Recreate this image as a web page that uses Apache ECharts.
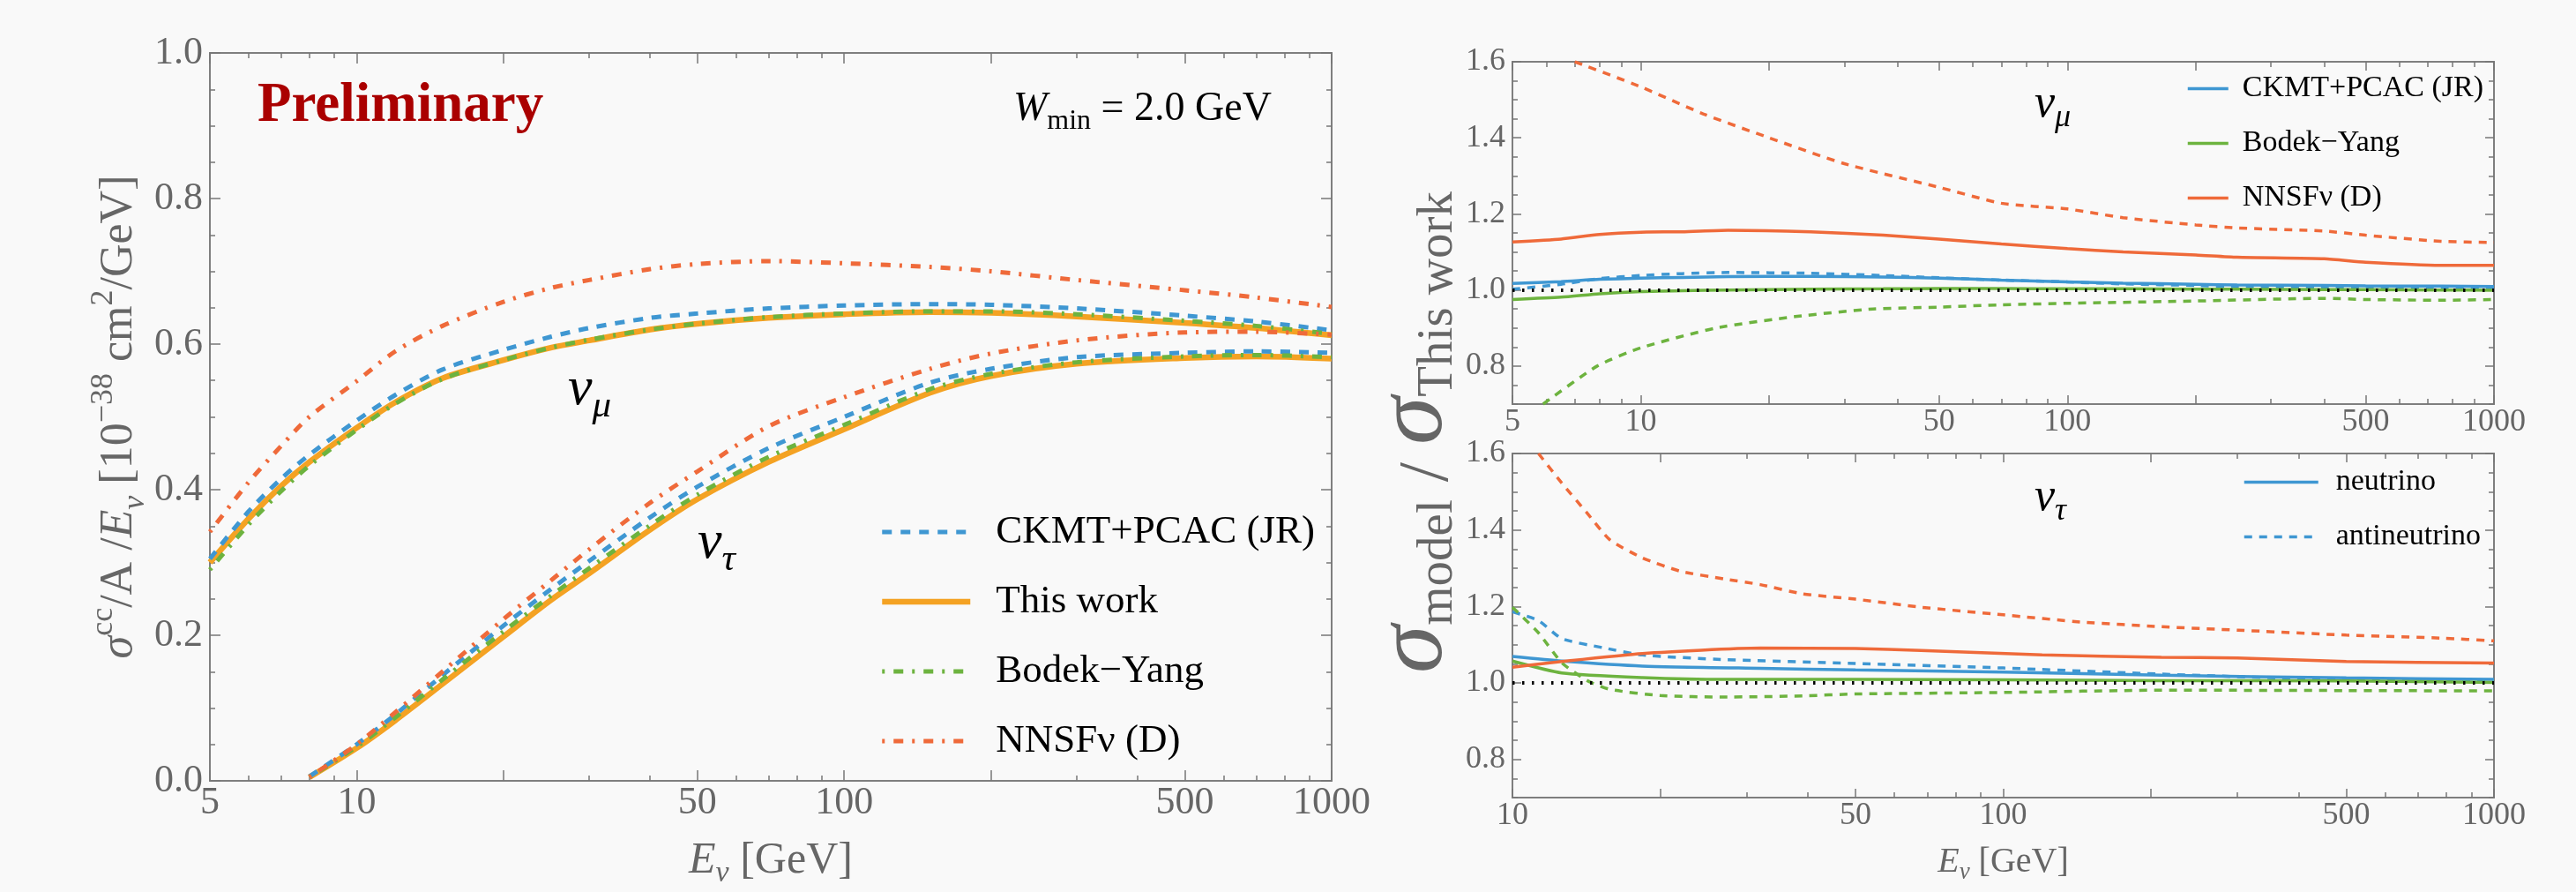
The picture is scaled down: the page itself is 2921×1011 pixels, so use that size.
<!DOCTYPE html>
<html>
<head>
<meta charset="utf-8">
<title>CC cross sections and ratios</title>
<script src="https://cdn.jsdelivr.net/npm/echarts@6/dist/echarts.min.js"></script>
<style>
  html, body { margin: 0; padding: 0; background: #f9f9f9; }
  #main { width: 2921px; height: 1011px; }
</style>
</head>
<body>
<div id="main"></div>
<script>
// ---- data ----
// left panel: sigma^cc / A / E  [1e-38 cm2/GeV]
var E_MU = [5, 6, 7, 8, 10, 12, 15, 20, 25, 30, 40, 50, 70, 100, 150, 200, 300, 500, 700, 1000];
var muThisWork = [0.300, 0.360, 0.405, 0.438, 0.485, 0.520, 0.553, 0.578, 0.595, 0.605, 0.620, 0.628, 0.636, 0.641, 0.644, 0.643, 0.638, 0.629, 0.622, 0.612];
var muCKMT     = [0.305, 0.370, 0.415, 0.448, 0.495, 0.530, 0.565, 0.592, 0.610, 0.622, 0.636, 0.642, 0.649, 0.653, 0.655, 0.654, 0.649, 0.639, 0.631, 0.619];
var muBY       = [0.290, 0.352, 0.398, 0.433, 0.482, 0.518, 0.552, 0.578, 0.595, 0.606, 0.620, 0.628, 0.637, 0.642, 0.645, 0.645, 0.641, 0.632, 0.625, 0.614];
var muNNSF     = [0.342, 0.410, 0.460, 0.500, 0.549, 0.590, 0.625, 0.658, 0.677, 0.688, 0.703, 0.710, 0.714, 0.711, 0.706, 0.700, 0.688, 0.674, 0.664, 0.651];

var E_TAU = [8, 10, 12, 15, 20, 25, 30, 40, 50, 70, 100, 150, 200, 300, 500, 700, 1000];
var tauThisWork = [0.005, 0.045, 0.083, 0.133, 0.198, 0.248, 0.285, 0.345, 0.387, 0.438, 0.483, 0.533, 0.556, 0.573, 0.581, 0.583, 0.580];
var tauCKMT     = [0.006, 0.050, 0.091, 0.145, 0.213, 0.263, 0.302, 0.362, 0.404, 0.457, 0.500, 0.547, 0.566, 0.582, 0.588, 0.590, 0.588];
var tauBY       = [0.005, 0.047, 0.087, 0.139, 0.205, 0.254, 0.292, 0.351, 0.393, 0.445, 0.489, 0.538, 0.559, 0.575, 0.583, 0.585, 0.582];
var tauNNSF     = [0.005, 0.050, 0.094, 0.150, 0.222, 0.275, 0.318, 0.382, 0.425, 0.487, 0.527, 0.566, 0.587, 0.605, 0.616, 0.617, 0.613];

// upper right: ratio to this work, nu_mu
var E_RMU = [5, 6.5, 8, 10, 12.5, 16, 25, 37, 50, 70, 100, 135, 200, 250, 400, 500, 750, 1000];
var rmuCKMT    = [1.017, 1.022, 1.028, 1.031, 1.033, 1.035, 1.036, 1.034, 1.031, 1.026, 1.021, 1.018, 1.015, 1.013, 1.012, 1.011, 1.010, 1.009];
var rmuCKMTbar = [1.002, 1.015, 1.030, 1.038, 1.043, 1.046, 1.044, 1.038, 1.032, 1.026, 1.021, 1.016, 1.012, 1.009, 1.006, 1.005, 1.003, 1.002];
var rmuBY      = [0.975, 0.981, 0.990, 0.996, 0.998, 1.000, 1.002, 1.003, 1.004, 1.004, 1.003, 1.003, 1.002, 1.002, 1.001, 1.001, 1.000, 0.999];
var rmuNNSF    = [1.126, 1.134, 1.146, 1.152, 1.153, 1.157, 1.153, 1.144, 1.134, 1.121, 1.109, 1.100, 1.092, 1.086, 1.082, 1.073, 1.065, 1.065];
var E_RMU_BYBAR = [5.9, 7.9, 10, 15, 23, 35, 50, 70, 100, 200, 400, 500, 750, 1000];
var rmuBYbar    = [0.700, 0.800, 0.848, 0.900, 0.930, 0.950, 0.955, 0.961, 0.965, 0.971, 0.978, 0.975, 0.973, 0.975];
var E_RMU_NNBAR = [7, 10, 14, 20, 30, 50, 70, 100, 135, 200, 250, 400, 500, 750, 1000];
var rmuNNSFbar  = [1.600, 1.534, 1.463, 1.400, 1.332, 1.270, 1.228, 1.213, 1.190, 1.171, 1.163, 1.155, 1.144, 1.128, 1.125];

// lower right: ratio to this work, nu_tau
var E_RT_CK = [10, 12.6, 18.4, 32, 50, 100, 210, 500, 1000];
var rtCKMT  = [1.069, 1.057, 1.044, 1.038, 1.034, 1.028, 1.020, 1.013, 1.009];
var E_RT_CKBAR = [10, 11.3, 12.6, 15.3, 18.4, 27, 50, 100, 210, 500, 1000];
var rtCKMTbar  = [1.186, 1.163, 1.116, 1.092, 1.073, 1.061, 1.051, 1.039, 1.023, 1.008, 1.005];
var E_RT_BY = [10, 12.6, 18.4, 27, 50, 100, 210, 500, 1000];
var rtBY    = [1.057, 1.026, 1.014, 1.009, 1.009, 1.008, 1.006, 1.005, 1.001];
var E_RT_BYBAR = [10, 11.3, 12.6, 14.2, 15.8, 20, 27, 39, 50, 100, 210, 500, 1000];
var rtBYbar    = [1.198, 1.131, 1.053, 1.006, 0.983, 0.967, 0.963, 0.966, 0.971, 0.975, 0.981, 0.980, 0.979];
var E_RT_NN = [10, 12.6, 18.4, 32, 50, 68, 120, 210, 300, 500, 1000];
var rtNNSF  = [1.041, 1.056, 1.077, 1.091, 1.090, 1.085, 1.073, 1.067, 1.065, 1.056, 1.052];
var E_RT_NNBAR = [11.3, 12.6, 14.2, 15.8, 18.4, 22, 27, 32, 39, 50, 68, 100, 145, 210, 300, 500, 785, 1000];
var rtNNSFbar  = [1.600, 1.523, 1.444, 1.374, 1.327, 1.292, 1.272, 1.257, 1.233, 1.219, 1.198, 1.178, 1.159, 1.147, 1.138, 1.125, 1.117, 1.110];

// ticks
var X_MAJOR = [5, 10, 20, 50, 100, 200, 500, 1000];
var X_MINOR = [6, 7, 8, 9, 30, 40, 60, 70, 80, 90, 300, 400, 600, 700, 800, 900];
var X_LABELS = [5, 10, 50, 100, 500, 1000];
var Y_LEFT_LABELS = [0, 0.2, 0.4, 0.6, 0.8, 1.0];
var Y_LEFT_MINOR = [0.05, 0.1, 0.15, 0.25, 0.3, 0.35, 0.45, 0.5, 0.55, 0.65, 0.7, 0.75, 0.85, 0.9, 0.95];
var Y_RATIO_LABELS = [0.8, 1.0, 1.2, 1.4, 1.6];
var Y_RATIO_MINOR = [0.7, 0.75, 0.85, 0.9, 0.95, 1.05, 1.1, 1.15, 1.25, 1.3, 1.35, 1.45, 1.5, 1.55];

var N_CK = 'CKMT+PCAC (JR)', N_TW = 'This work', N_BY = 'Bodek\u2212Yang', N_NN = 'NNSF\u03bd (D)';

// ---- styles ----
var FONT = '"Liberation Serif", "Times New Roman", serif';
var GRAY = '#666666';
var C_BLUE = '#3f97d2', C_ORANGE = '#f4a223', C_GREEN = '#6db33f', C_RED = '#ef6a3a';
var TICK = { color: '#777777', width: 1.5 };

function lg(list) { return list.map(function (e) { return Math.log10(e); }); }
function inRange(list, a, b) { return list.filter(function (e) { return e >= a && e <= b; }); }

function xAxes(grid, minE, maxE, fontSize, majLen, minLen, nameGap, nameSize) {
  var lo = Math.log10(minE), hi = Math.log10(maxE);
  var major = lg(inRange(X_MAJOR, minE, maxE));
  var minor = lg(inRange(X_MINOR, minE, maxE));
  var base = { type: 'value', gridIndex: grid, min: lo, max: hi,
    axisLine: { show: false, onZero: false }, splitLine: { show: false } };
  var nameRich = {
    e: { fontFamily: FONT, fontStyle: 'italic', fontSize: nameSize, lineHeight: nameSize * 1.24, color: GRAY, verticalAlign: 'middle' },
    sub: { fontFamily: FONT, fontStyle: 'italic', fontSize: Math.round(nameSize * 0.68), lineHeight: Math.round(nameSize * 0.68), color: GRAY, verticalAlign: 'bottom' },
    n: { fontFamily: FONT, fontSize: nameSize, lineHeight: nameSize * 1.24, color: GRAY, verticalAlign: 'middle' }
  };
  return [
    Object.assign({}, base, { position: 'bottom',
      axisTick: { inside: true, length: majLen, customValues: major, lineStyle: TICK },
      axisLabel: { customValues: lg(inRange(X_LABELS, minE, maxE)), margin: 3,
        formatter: function (v) { return String(Math.round(Math.pow(10, v))); },
        fontFamily: FONT, fontSize: fontSize, color: GRAY },
      name: nameSize ? '{e|E}{sub|\u03bd}{n| [GeV]}' : '', nameLocation: 'middle', nameGap: nameGap,
      nameTextStyle: { rich: nameRich } }),
    Object.assign({}, base, { position: 'bottom',
      axisTick: { inside: true, length: minLen, customValues: minor, lineStyle: TICK },
      axisLabel: { show: false } }),
    Object.assign({}, base, { position: 'top',
      axisTick: { inside: true, length: majLen, customValues: major, lineStyle: TICK },
      axisLabel: { show: false } }),
    Object.assign({}, base, { position: 'top',
      axisTick: { inside: true, length: minLen, customValues: minor, lineStyle: TICK },
      axisLabel: { show: false } })
  ];
}

function yAxes(grid, lo, hi, labels, minor, fontSize, majLen, minLen, extra) {
  var base = { type: 'value', gridIndex: grid, min: lo, max: hi,
    axisLine: { show: false, onZero: false }, splitLine: { show: false } };
  return [
    Object.assign({}, base, { position: 'left',
      axisTick: { inside: true, length: majLen, customValues: labels, lineStyle: TICK },
      axisLabel: { customValues: labels, margin: 8,
        formatter: function (v) { return v.toFixed(1); },
        fontFamily: FONT, fontSize: fontSize, color: GRAY } }, extra || {}),
    Object.assign({}, base, { position: 'left',
      axisTick: { inside: true, length: minLen, customValues: minor, lineStyle: TICK },
      axisLabel: { show: false } }),
    Object.assign({}, base, { position: 'right',
      axisTick: { inside: true, length: majLen, customValues: labels, lineStyle: TICK },
      axisLabel: { show: false } }),
    Object.assign({}, base, { position: 'right',
      axisTick: { inside: true, length: minLen, customValues: minor, lineStyle: TICK },
      axisLabel: { show: false } })
  ];
}

function pts(E, v) { return E.map(function (e, i) { return [Math.log10(e), v[i]]; }); }

function line(name, grid, E, v, color, width, type, extra) {
  return Object.assign({
    name: name, type: 'line', xAxisIndex: grid * 4, yAxisIndex: grid * 4,
    data: pts(E, v), symbol: 'none', showSymbol: false, smooth: 0.3,
    clip: true, z: 3, silent: true, emphasis: { disabled: true },
    itemStyle: { color: color },
    lineStyle: { color: color, width: width, type: type }
  }, extra || {});
}

var DASH_L = [11, 10], DASHDOT_L = [3, 10, 11, 10], DASH_R = [9, 8];
var W_L = 5, W_TW = 6.5, W_R = 3.5;

var unityLine = {
  silent: true, symbol: ['none', 'none'], label: { show: false },
  lineStyle: { color: '#000', width: 4, type: [2.5, 8.5] },
  data: [{ yAxis: 1 }]
};

var series = [
  // left panel, nu_mu (first: their styles feed the legend)
  line(N_CK, 0, E_MU, muCKMT, C_BLUE, W_L, DASH_L),
  line(N_TW, 0, E_MU, muThisWork, C_ORANGE, W_TW, 'solid', { z: 2 }),
  line(N_BY, 0, E_MU, muBY, C_GREEN, W_L, DASHDOT_L),
  line(N_NN, 0, E_MU, muNNSF, C_RED, W_L, DASHDOT_L),
  // left panel, nu_tau
  line(N_CK, 0, E_TAU, tauCKMT, C_BLUE, W_L, DASH_L),
  line(N_TW, 0, E_TAU, tauThisWork, C_ORANGE, W_TW, 'solid', { z: 2 }),
  line(N_BY, 0, E_TAU, tauBY, C_GREEN, W_L, DASHDOT_L),
  line(N_NN, 0, E_TAU, tauNNSF, C_RED, W_L, DASHDOT_L),
  // upper right, nu_mu ratios
  line(N_CK, 1, E_RMU, rmuCKMT, C_BLUE, W_R, 'solid', { smooth: 0.2, markLine: unityLine }),
  line(N_CK, 1, E_RMU, rmuCKMTbar, C_BLUE, W_R, DASH_R, { smooth: 0.2 }),
  line(N_BY, 1, E_RMU, rmuBY, C_GREEN, W_R, 'solid', { smooth: 0.2 }),
  line(N_BY, 1, E_RMU_BYBAR, rmuBYbar, C_GREEN, W_R, DASH_R, { smooth: 0.2 }),
  line(N_NN, 1, E_RMU, rmuNNSF, C_RED, W_R, 'solid', { smooth: 0.2 }),
  line(N_NN, 1, E_RMU_NNBAR, rmuNNSFbar, C_RED, W_R, DASH_R, { smooth: 0.2 }),
  // lower right, nu_tau ratios
  line(N_CK, 2, E_RT_CK, rtCKMT, C_BLUE, W_R, 'solid', { smooth: 0.2, markLine: unityLine }),
  line(N_CK, 2, E_RT_CKBAR, rtCKMTbar, C_BLUE, W_R, DASH_R, { smooth: 0.2 }),
  line(N_BY, 2, E_RT_BY, rtBY, C_GREEN, W_R, 'solid', { smooth: 0.2 }),
  line(N_BY, 2, E_RT_BYBAR, rtBYbar, C_GREEN, W_R, DASH_R, { smooth: 0.2 }),
  line(N_NN, 2, E_RT_NN, rtNNSF, C_RED, W_R, 'solid', { smooth: 0.2 }),
  line(N_NN, 2, E_RT_NNBAR, rtNNSFbar, C_RED, W_R, DASH_R, { smooth: 0.2 }),
  // legend-only entries of the lower right panel
  line('neutrino', 2, [], [], C_BLUE, W_R, 'solid'),
  line('antineutrino', 2, [], [], C_BLUE, W_R, DASH_R)
];

var leftYName = {
  s: { fontFamily: FONT, fontStyle: 'italic', fontSize: 52, lineHeight: 72, color: GRAY, verticalAlign: 'middle' },
  e: { fontFamily: FONT, fontStyle: 'italic', fontSize: 52, lineHeight: 72, color: GRAY, verticalAlign: 'middle' },
  n: { fontFamily: FONT, fontSize: 52, lineHeight: 72, color: GRAY, verticalAlign: 'middle' },
  sup: { fontFamily: FONT, fontSize: 36, lineHeight: 36, color: GRAY, verticalAlign: 'top' },
  sub: { fontFamily: FONT, fontStyle: 'italic', fontSize: 36, lineHeight: 36, color: GRAY, verticalAlign: 'bottom' }
};

var xAxis = [].concat(
  xAxes(0, 5, 1000, 44, 12, 6, 60, 50),
  xAxes(1, 5, 1000, 36, 10, 6, 0, 0),
  xAxes(2, 10, 1000, 36, 10, 6, 49, 40)
);

var yAxis = [].concat(
  yAxes(0, 0, 1, Y_LEFT_LABELS, Y_LEFT_MINOR, 44, 12, 6, {
    name: '{s|\u03c3}{sup|cc}{n|/A /}{e|E}{sub|\u03bd}{n| [10}{sup|\u221238}{n| cm}{sup|2}{n|/GeV]}',
    nameLocation: 'middle', nameRotate: 90, nameGap: 65,
    nameTextStyle: { rich: leftYName }
  }),
  yAxes(1, 0.7, 1.6, Y_RATIO_LABELS, Y_RATIO_MINOR, 36, 10, 6),
  yAxes(2, 0.7, 1.6, Y_RATIO_LABELS, Y_RATIO_MINOR, 36, 10, 6)
);

function gridBox(l, t, w, h) {
  return { left: l, top: t, width: w, height: h, show: true, borderColor: '#7f7f7f',
    borderWidth: 2, backgroundColor: 'transparent', containLabel: false, outerBoundsMode: 'none' };
}

function nuLabel(x, y, sub, size) {
  return { type: 'text', x: x, y: y, silent: true, style: {
    text: '{v|\u03bd}{m|' + sub + '}', textAlign: 'left', textVerticalAlign: 'middle',
    rich: {
      v: { fontFamily: FONT, fontStyle: 'italic', fontSize: size, lineHeight: size * 1.3, fill: '#000', verticalAlign: 'middle' },
      m: { fontFamily: FONT, fontStyle: 'italic', fontSize: Math.round(size * 0.7), lineHeight: Math.round(size * 0.7), fill: '#000', verticalAlign: 'bottom' }
    } } };
}

var legendText = function (size, pad) {
  return { fontFamily: FONT, fontSize: size, lineHeight: size + 1, color: '#000', padding: [0, 0, 0, pad] };
};

var option = {
  backgroundColor: '#f9f9f9',
  animation: false,
  grid: [gridBox(238, 60, 1272, 825), gridBox(1715, 70, 1113, 388), gridBox(1715, 514, 1113, 390)],
  xAxis: xAxis,
  yAxis: yAxis,
  legend: [
    { orient: 'vertical', left: 997, top: 580, padding: 0, itemWidth: 100, itemHeight: 14, itemGap: 33,
      data: [
        { name: N_CK, lineStyle: { width: W_L } },
        { name: N_TW, lineStyle: { width: W_TW } },
        { name: N_BY, lineStyle: { width: W_L } },
        { name: N_NN, lineStyle: { width: W_L } }
      ], textStyle: legendText(45, 24),
      itemStyle: { opacity: 0 }, selectedMode: false },
    { orient: 'vertical', left: 2479, top: 83, padding: 0, itemWidth: 46, itemHeight: 10, itemGap: 27,
      data: [
        { name: N_CK, lineStyle: { type: 'solid', width: W_R } },
        { name: N_BY, lineStyle: { type: 'solid', width: W_R } },
        { name: N_NN, lineStyle: { type: 'solid', width: W_R } }
      ], textStyle: legendText(34, 11), itemStyle: { opacity: 0 }, selectedMode: false },
    { orient: 'vertical', left: 2543, top: 529, padding: 0, itemWidth: 84, itemHeight: 10, itemGap: 27,
      data: [
        { name: 'neutrino', lineStyle: { color: C_BLUE, type: 'solid', width: W_R } },
        { name: 'antineutrino', lineStyle: { color: C_BLUE, type: DASH_R, width: W_R } }
      ], textStyle: legendText(34, 15),
      itemStyle: { opacity: 0 }, selectedMode: false }
  ],
  graphic: [
    { type: 'text', x: 292, y: 121, silent: true, style: {
      text: 'Preliminary', font: 'bold 63px "Liberation Serif"', fill: '#aa0000',
      textAlign: 'left', textVerticalAlign: 'middle' } },
    { type: 'text', x: 1149, y: 124, silent: true, style: {
      text: '{w|W}{m|min}{n| = 2.0 GeV}', textAlign: 'left', textVerticalAlign: 'middle',
      rich: {
        w: { fontFamily: FONT, fontStyle: 'italic', fontSize: 46, lineHeight: 60, fill: '#000', verticalAlign: 'middle' },
        m: { fontFamily: FONT, fontSize: 32, lineHeight: 32, fill: '#000', verticalAlign: 'bottom' },
        n: { fontFamily: FONT, fontSize: 46, lineHeight: 60, fill: '#000', verticalAlign: 'middle' }
      } } },
    nuLabel(644, 442, '\u03bc', 62),
    nuLabel(791, 616, '\u03c4', 62),
    nuLabel(2307, 118, '\u03bc', 52),
    nuLabel(2307, 564, '\u03c4', 52),
    { type: 'text', x: 1605, y: 490, rotation: Math.PI / 2, silent: true, style: {
      text: '{s|\u03c3}{sub|model}{sl| / }{s|\u03c3}{sub|This work}',
      textAlign: 'center', textVerticalAlign: 'middle',
      rich: {
        s: { fontFamily: FONT, fontStyle: 'italic', fontSize: 110, lineHeight: 110, fill: GRAY, verticalAlign: 'bottom' },
        sub: { fontFamily: FONT, fontSize: 57, lineHeight: 57, fill: GRAY, verticalAlign: 'bottom' },
        sl: { fontFamily: FONT, fontSize: 80, lineHeight: 80, fill: GRAY, verticalAlign: 'bottom' }
      } } }
  ],
  series: series
};

var chart = echarts.init(document.getElementById('main'));
chart.setOption(option);
</script>
</body>
</html>
